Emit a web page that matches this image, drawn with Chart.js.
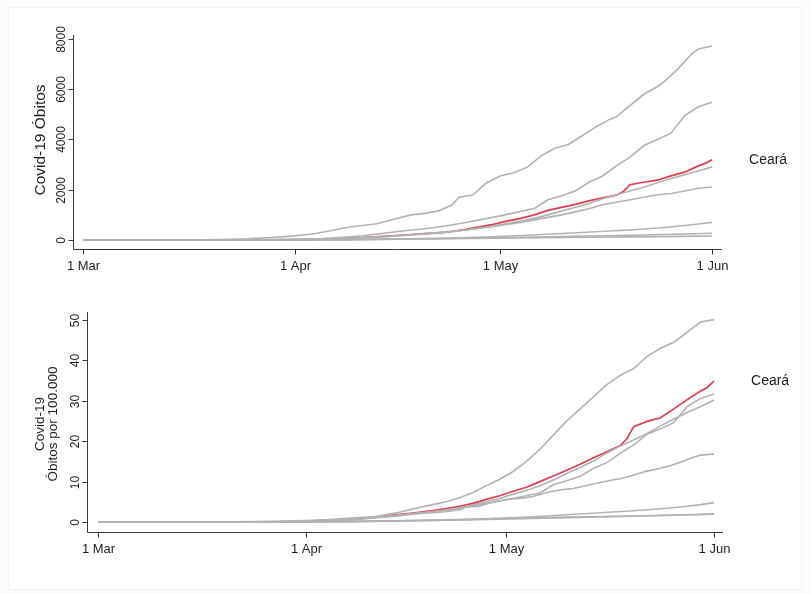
<!DOCTYPE html>
<html>
<head>
<meta charset="utf-8">
<script src="https://cdn.jsdelivr.net/npm/chart.js@4/dist/chart.umd.min.js"></script>
<style>
  html, body { margin: 0; padding: 0; background: #fcfcfc; }
  #page { position: relative; width: 811px; height: 594px; overflow: hidden; }
  #sheet { position: absolute; left: 8px; top: 7px; width: 792px; height: 581px; background: #fff; border: 1px solid #f1f1f1; }
  canvas { position: absolute; left: 0; }
  #c1 { top: 0; }
  #c2 { top: 297px; }
</style>
</head>
<body>
<div id="page">
  <div id="sheet"></div>
  <canvas id="c1" width="811" height="297"></canvas>
  <canvas id="c2" width="811" height="297"></canvas>
</div>
<script>
// Days counted from 1 March 2020 (0 = 1 Mar, 31 = 1 Apr, 61 = 1 May, 92 = 1 Jun)
const dateTicks = [0, 31, 61, 92];
const dateLabels = ['1 Mar', '1 Apr', '1 May', '1 Jun'];
const deathTicks = [0, 2000, 4000, 6000, 8000];
const rateTicks = [0, 10, 20, 30, 40, 50];

// Cumulative deaths
const spDays = [0,15,20,24,28,31,34,36,39,43,45,48,50,52,54,55,57,59,61,63,65,67,69,71,73,75,77,78,80,82,84,85,87,89,90,92];
const spDeaths = [0,0,15,45,110,165,260,360,520,650,800,1000,1060,1160,1400,1700,1790,2270,2550,2680,2900,3350,3650,3800,4150,4500,4800,4900,5350,5800,6100,6300,6800,7400,7600,7720];
const rjDays = [0,20,25,31,35,38,41,44,47,50,53,56,58,61,63,66,68,70,72,74,76,78,80,82,84,86,88,90,92];
const rjDeaths = [0,0,5,25,60,110,170,270,370,450,560,700,800,960,1080,1250,1600,1760,1950,2300,2550,2950,3300,3750,4000,4250,4950,5300,5480];
const ceDays = [0,22,26,31,35,38,41,44,47,50,53,56,58,60,62,64,66,68,70,72,74,76,78,79,80,82,84,86,88,90,91,92];
const ceDeaths = [0,0,5,20,40,70,100,150,200,250,300,420,520,620,750,860,1000,1180,1300,1420,1560,1680,1780,1920,2200,2300,2380,2550,2700,2950,3050,3190];
const peDays = [0,22,28,31,35,38,41,44,47,50,53,56,58,60,62,64,66,68,70,72,74,76,78,80,82,84,86,88,90,92];
const peDeaths = [0,0,5,10,30,60,95,130,180,230,300,400,480,560,660,750,860,1000,1150,1300,1450,1640,1800,1950,2100,2280,2450,2600,2750,2910];
const amDays = [0,20,24,28,31,35,38,41,44,47,50,53,56,58,60,62,64,66,68,70,72,74,76,78,80,82,84,86,88,90,92];
const amDeaths = [0,0,2,8,15,30,50,80,130,190,260,330,400,470,540,620,700,800,900,1000,1120,1240,1400,1500,1600,1700,1800,1850,1950,2060,2110];
const baDays = [0,25,31,38,45,50,55,60,65,70,75,80,85,88,90,92];
const baDeaths = [0,0,5,15,35,55,85,130,190,260,330,400,500,580,640,700];
const mgDays = [0,25,31,40,50,60,70,80,88,92];
const mgDeaths = [0,0,5,20,50,90,140,190,240,266];
const rsDays = [0,25,31,40,50,60,70,80,88,92];
const rsDeaths = [0,0,3,15,40,70,100,125,145,160];

// Deaths per 100,000 inhabitants
const amRateDays = [0,25,30,35,40,43,45,48,50,52,54,56,58,60,62,64,66,68,70,72,74,76,78,80,82,84,86,88,90,92];
const amRate = [0,0,0.2,0.5,1.0,1.8,2.4,3.6,4.3,5.0,6.0,7.3,9.0,10.6,12.5,15.0,18.0,21.5,25.0,28.0,31.0,34.0,36.3,38.0,41.0,43.0,44.5,47.0,49.5,50.1];
const ceRateDays = [0,25,31,35,38,41,44,47,50,52,54,56,58,60,62,64,66,68,70,72,74,76,78,79,80,82,84,86,88,90,91,92];
const ceRate = [0,0,0.2,0.4,0.7,1.1,1.7,2.2,2.8,3.3,3.9,4.6,5.6,6.5,7.6,8.6,10.0,11.4,12.8,14.3,15.9,17.4,18.9,20.6,23.6,24.9,25.8,28.0,30.3,32.4,33.3,34.9];
const rjRateDays = [0,25,31,35,38,41,44,47,50,53,56,58,61,63,66,68,70,72,74,76,78,80,82,84,86,88,90,92];
const rjRate = [0,0,0.15,0.35,0.6,1.0,1.5,2.1,2.6,3.2,4.0,4.6,5.5,6.2,7.2,9.2,10.2,11.3,13.3,14.7,17.0,19.1,21.7,23.1,24.6,28.6,30.6,31.7];
const peRateDays = [0,25,31,35,38,41,44,47,50,53,56,58,60,62,64,66,68,70,72,74,76,78,80,82,84,86,88,90,92];
const peRate = [0,0,0.1,0.3,0.6,1.0,1.35,1.9,2.4,3.1,4.2,5.0,5.8,6.9,7.8,9.0,10.4,12.0,13.5,15.1,17.1,18.8,20.3,21.9,23.8,25.5,27.1,28.6,30.2];
const spRateDays = [0,15,20,24,28,31,34,36,39,43,45,48,50,52,54,55,57,59,61,63,65,67,69,71,73,75,77,78,80,82,84,85,87,89,90,92];
const spRate = [0,0,0.03,0.1,0.24,0.36,0.57,0.78,1.13,1.42,1.74,2.18,2.31,2.53,3.05,3.7,3.9,4.95,5.56,5.84,6.3,7.3,7.95,8.3,9.05,9.8,10.45,10.7,11.65,12.6,13.3,13.7,14.8,16.1,16.55,16.8];
const baRateDays = [0,25,31,38,45,50,55,60,65,70,75,80,85,88,90,92];
const baRate = [0,0,0.04,0.1,0.25,0.38,0.6,0.9,1.3,1.8,2.3,2.8,3.4,3.9,4.3,4.8];
const mgRateDays = [0,25,31,40,50,60,70,80,88,92];
const mgRate = [0,0,0.04,0.15,0.4,0.7,1.05,1.45,1.8,2.0];
const rsRateDays = [0,25,31,40,50,60,70,80,88,92];
const rsRate = [0,0,0.05,0.2,0.5,0.85,1.2,1.5,1.75,1.9];

const GREY = 'rgb(178,178,178)';
const RED = 'rgb(226,58,78)';
const AXIS = '#3a3a3a';
const TEXT = '#1e1e1e';
const FONT = '"Liberation Sans", Arial, Helvetica, sans-serif';

function pts(days, vals) { return days.map((d, i) => ({ x: d, y: vals[i] })); }
function line(label, days, vals, color, width) {
  return { label, data: pts(days, vals), borderColor: color, borderWidth: width,
           pointRadius: 0, tension: 0, fill: false };
}

// Stata-style axes: offset axis lines, outward ticks, rotated y labels
const stataAxes = {
  id: 'stataAxes',
  afterDraw(chart, args, o) {
    const ctx = chart.ctx, xs = chart.scales.x, ys = chart.scales.y, a = chart.chartArea;
    ctx.save();
    ctx.strokeStyle = AXIS; ctx.lineWidth = 1; ctx.fillStyle = TEXT;
    const L = Math.round(a.left) + 0.5, B = Math.round(a.bottom) + 0.5;
    ctx.beginPath();
    ctx.moveTo(L, a.top); ctx.lineTo(L, B);
    ctx.moveTo(L, B); ctx.lineTo(a.right, B);
    ctx.stroke();
    // x ticks
    ctx.font = '13px ' + FONT; ctx.textAlign = 'center'; ctx.textBaseline = 'top';
    o.xTicks.forEach((v, i) => {
      const px = Math.round(xs.getPixelForValue(v)) + 0.5;
      ctx.beginPath(); ctx.moveTo(px, B); ctx.lineTo(px, B + 5); ctx.stroke();
      ctx.fillText(o.xLabels[i], px, B + o.xLabelGap);
    });
    // y ticks with rotated labels
    ctx.font = '12px ' + FONT;
    o.yTicks.forEach(v => {
      const py = Math.round(ys.getPixelForValue(v)) + 0.5;
      ctx.beginPath(); ctx.moveTo(L - 5, py); ctx.lineTo(L, py); ctx.stroke();
      ctx.save();
      ctx.translate(L - 9, py); ctx.rotate(-Math.PI / 2);
      ctx.textAlign = 'center'; ctx.textBaseline = 'alphabetic';
      ctx.fillText(String(v), 0, 0);
      ctx.restore();
    });
    // y title
    const midY = (a.top + a.bottom) / 2;
    ctx.font = o.titleSize + 'px ' + FONT;
    o.titleLines.forEach((t, i) => {
      ctx.save();
      ctx.translate(o.titleX[i], midY + o.titleShift); ctx.rotate(-Math.PI / 2);
      ctx.textAlign = 'center'; ctx.textBaseline = 'middle';
      ctx.fillText(t, 0, 0);
      ctx.restore();
    });
    // label for the highlighted series at its last point
    const meta = chart.getDatasetMeta(o.labelIndex);
    const last = meta.data[meta.data.length - 1];
    ctx.font = '14px ' + FONT; ctx.textAlign = 'left'; ctx.textBaseline = 'middle';
    ctx.fillText(chart.data.datasets[o.labelIndex].label, last.x + 37, last.y);
    ctx.restore();
  }
};

function makeChart(id, datasets, xr, yr, pad, axesOpts) {
  return new Chart(document.getElementById(id), {
    type: 'line',
    data: { datasets },
    options: {
      responsive: false, animation: false, events: [],
      layout: { padding: pad },
      scales: {
        x: { type: 'linear', min: xr[0], max: xr[1], display: false },
        y: { type: 'linear', min: yr[0], max: yr[1], display: false }
      },
      plugins: { legend: { display: false }, tooltip: { enabled: false }, stataAxes: axesOpts }
    },
    plugins: [stataAxes]
  });
}

makeChart('c1', [
  line('São Paulo', spDays, spDeaths, GREY, 1.6),
  line('Rio de Janeiro', rjDays, rjDeaths, GREY, 1.6),
  line('Pernambuco', peDays, peDeaths, GREY, 1.6),
  line('Amazonas', amDays, amDeaths, GREY, 1.6),
  line('Bahia', baDays, baDeaths, GREY, 1.6),
  line('Minas Gerais', mgDays, mgDeaths, GREY, 1.6),
  line('Rio Grande do Sul', rsDays, rsDeaths, GREY, 1.6),
  line('Ceará', ceDays, ceDeaths, RED, 1.7)
], [-1.46, 93.46], [-358, 8159], { left: 73, right: 89, top: 35, bottom: 48 }, {
  xTicks: dateTicks, xLabels: dateLabels, yTicks: deathTicks, xLabelGap: 10,
  titleLines: ['Covid-19 Óbitos'], titleX: [41], titleSize: 15.5, titleShift: -2, labelIndex: 7
});

makeChart('c2', [
  line('Amazonas', amRateDays, amRate, GREY, 1.6),
  line('Rio de Janeiro', rjRateDays, rjRate, GREY, 1.6),
  line('Pernambuco', peRateDays, peRate, GREY, 1.6),
  line('São Paulo', spRateDays, spRate, GREY, 1.6),
  line('Bahia', baRateDays, baRate, GREY, 1.6),
  line('Minas Gerais', mgRateDays, mgRate, GREY, 1.6),
  line('Rio Grande do Sul', rsRateDays, rsRate, GREY, 1.6),
  line('Ceará', ceRateDays, ceRate, RED, 1.7)
], [-1.64, 93.34], [-2.475, 51.98], { left: 87, right: 88, top: 15, bottom: 62 }, {
  xTicks: dateTicks, xLabels: dateLabels, yTicks: rateTicks, xLabelGap: 10,
  titleLines: ['Covid-19', 'Óbitos por 100.000'], titleX: [40, 53], titleSize: 13.5, titleShift: 2, labelIndex: 7
});
</script>
</body>
</html>
